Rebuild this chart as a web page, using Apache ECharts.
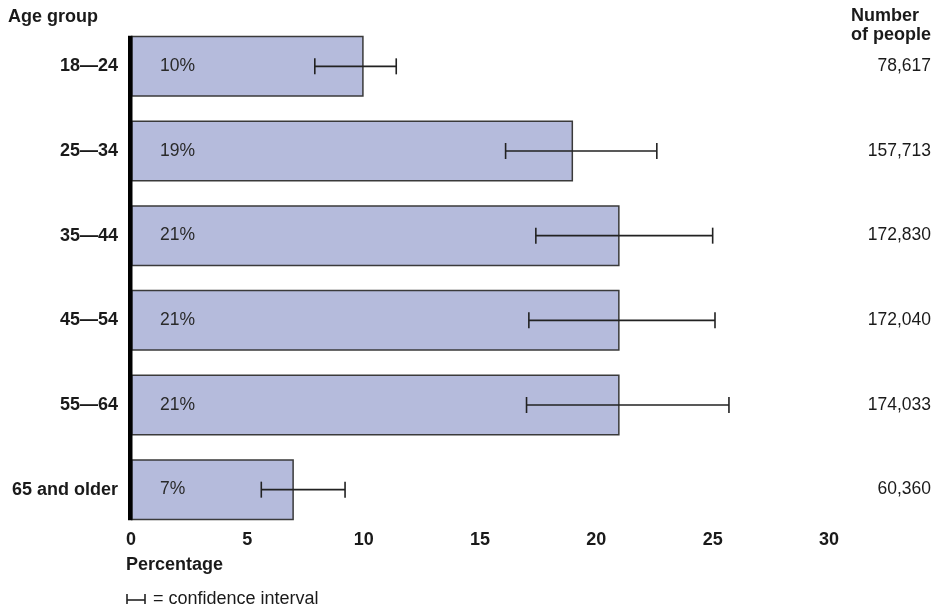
<!DOCTYPE html>
<html>
<head>
<meta charset="utf-8">
<script src="https://cdn.jsdelivr.net/npm/echarts@6/dist/echarts.min.js"></script>
<style>
  html, body { margin: 0; padding: 0; background: #fff; }
  #chart { width: 935px; height: 608px; }
</style>
</head>
<body>
<div id="chart"></div>
<script>
// Share of people by age group, with confidence intervals
const ageGroups = ['18\u201424', '25\u201434', '35\u201444', '45\u201454', '55\u201464', '65 and older'];
const percentages = [10, 19, 21, 21, 21, 7];
const ciLow  = [7.9, 16.1, 17.4, 17.1, 17.0, 5.6];
const ciHigh = [11.4, 22.6, 25.0, 25.1, 25.7, 9.2];
const peopleCounts = ['78,617', '157,713', '172,830', '172,040', '174,033', '60,360'];
const xTicks = [0, 5, 10, 15, 20, 25, 30];

const FONT = '"Liberation Sans", Arial, sans-serif';
const INK = '#1a1a1a';

const chart = echarts.init(document.getElementById('chart'), null, { renderer: 'canvas' });

const ciData = ageGroups.map((g, i) => [ciLow[i], ciHigh[i], i]);

const option = {
  animation: false,
  backgroundColor: '#ffffff',
  textStyle: { fontFamily: FONT },
  grid: { left: 131, right: 106, top: 24, bottom: 76, containLabel: false },
  xAxis: {
    type: 'value',
    min: xTicks[0],
    max: xTicks[xTicks.length - 1],
    interval: 5,
    axisLine: { show: false },
    axisTick: { show: false },
    splitLine: { show: false },
    axisLabel: {
      margin: -1,
      color: INK,
      fontFamily: FONT,
      fontSize: 18,
      fontWeight: 'bold',
      verticalAlign: 'top'
    }
  },
  yAxis: [
    {
      type: 'category',
      data: ageGroups,
      inverse: true,
      axisLine: { show: false },
      axisTick: { show: false },
      axisLabel: {
        margin: 13,
        padding: [3, 0, 0, 0],
        color: INK,
        fontFamily: FONT,
        fontSize: 18,
        fontWeight: 'bold'
      }
    },
    {
      type: 'category',
      data: peopleCounts,
      inverse: true,
      position: 'right',
      axisLine: { show: false },
      axisTick: { show: false },
      axisLabel: {
        margin: 102,
        align: 'right',
        padding: [3, 0, 0, 0],
        color: INK,
        fontFamily: FONT,
        fontSize: 17.5
      }
    }
  ],
  series: [
    {
      type: 'bar',
      data: percentages,
      barWidth: 61,
      itemStyle: { color: '#b5bbdc', borderColor: '#3a3a3a', borderWidth: 1.5 },
      label: {
        show: true,
        position: [29, '50%'],
        verticalAlign: 'middle',
        padding: [3, 0, 0, 0],
        formatter: p => p.value + '%',
        color: '#2a2a2a',
        fontFamily: FONT,
        fontSize: 17.5
      },
      z: 2
    },
    {
      type: 'custom',
      data: ciData,
      encode: { x: [0, 1], y: 2 },
      z: 5,
      renderItem: function (params, api) {
        const y = api.value(2);
        const p1 = api.coord([api.value(0), y]);
        const p2 = api.coord([api.value(1), y]);
        const cap = 8;
        const style = { stroke: '#222', lineWidth: 1.6, fill: null };
        return {
          type: 'group',
          children: [
            { type: 'line', shape: { x1: p1[0], y1: p1[1], x2: p2[0], y2: p2[1] }, style: style },
            { type: 'line', shape: { x1: p1[0], y1: p1[1] - cap, x2: p1[0], y2: p1[1] + cap }, style: style },
            { type: 'line', shape: { x1: p2[0], y1: p2[1] - cap, x2: p2[0], y2: p2[1] + cap }, style: style }
          ]
        };
      }
    }
  ],
  graphic: [
    { type: 'text', left: 8, top: 8, style: { text: 'Age group', font: 'bold 18px ' + FONT, fill: INK } },
    { type: 'text', right: 4, top: 7, style: { text: 'Number\nof people', font: 'bold 18px ' + FONT, fill: INK, align: 'right', lineHeight: 19 } },
    { type: 'text', left: 126, top: 556, style: { text: 'Percentage', font: 'bold 18px ' + FONT, fill: INK } },
    { type: 'text', left: 153, top: 590, style: { text: '= confidence interval', font: '18px ' + FONT, fill: INK } },
    // legend glyph for the interval whisker
    { type: 'line', shape: { x1: 127, y1: 600, x2: 145, y2: 600 }, style: { stroke: '#222', lineWidth: 1.6 } },
    { type: 'line', shape: { x1: 127, y1: 594, x2: 127, y2: 604 }, style: { stroke: '#222', lineWidth: 1.6 } },
    { type: 'line', shape: { x1: 145, y1: 594, x2: 145, y2: 604 }, style: { stroke: '#222', lineWidth: 1.6 } }
  ]
};

chart.setOption(option);

// Thick baseline spanning from the top of the first bar to the bottom of the last
const first = chart.convertToPixel({ gridIndex: 0 }, [0, 0]);
const last = chart.convertToPixel({ gridIndex: 0 }, [0, ageGroups.length - 1]);
const half = 30.5;
option.graphic.push({
  type: 'rect',
  z: 10,
  shape: { x: first[0] - 3, y: first[1] - half, width: 4.5, height: last[1] - first[1] + 2 * half },
  style: { fill: '#000' }
});
chart.setOption({ graphic: option.graphic });
</script>
</body>
</html>
